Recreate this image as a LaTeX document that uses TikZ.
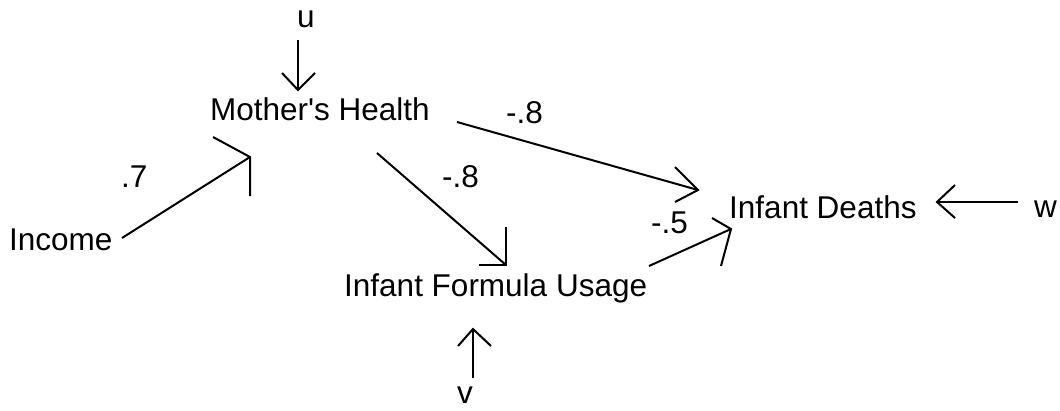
\documentclass[tikz,border=0pt]{standalone}
\usepackage{fontspec}
\setmainfont{Liberation Sans}
\begin{document}
\begin{tikzpicture}[x=1pt,y=-1pt,
  txt/.style={inner sep=0pt,anchor=base west,font=\fontsize{31.5}{37}\selectfont},
  conn/.style={line width=2pt,black},
  head/.style={line width=2pt,black,line join=miter}]
\useasboundingbox (0,0) rectangle (1060,410);
% nodes
\node[txt] (u) at (297,27) {u};
\node[txt] (mh) at (210,120) {Mother\textquotesingle s Health};
\node[txt] (inc) at (9,250) {Income};
\node[txt] (ifu) at (344,296) {Infant Formula Usage};
\node[txt] (id) at (729,218) {Infant Deaths};
\node[txt] (w) at (1034,217) {w};
\node[txt] (v) at (457,403) {v};
% labels
\node[txt] (l1) at (121,187) {.7};
\node[txt] (l2) at (442,187) {-.8};
\node[txt] (l3) at (506,123) {-.8};
\node[txt] (l4) at (651,233) {-.5};
% connector end points
\coordinate (uS) at (298,40);   \coordinate (uT) at (298,90);
\coordinate (incS) at (122,238); \coordinate (mhT1) at (250,157);
\coordinate (mhS1) at (377,153); \coordinate (ifuT) at (506,265);
\coordinate (mhS2) at (457,122); \coordinate (idT1) at (698,190);
\coordinate (ifuS) at (649,266); \coordinate (idT2) at (731,229);
\coordinate (wS) at (1018,202);  \coordinate (idT3) at (937,202);
\coordinate (vS) at (473,378);   \coordinate (ifuT2) at (473,329);
% connectors
\draw[conn] (uS) -- (uT);
\draw[head] (uT) ++(-16,-17) -- (uT) -- ++(17,-17);
\draw[conn] (incS) -- (mhT1);
\draw[head] (mhT1) ++(-37,-20) -- (mhT1) -- ++(0,39);
\draw[conn] (mhS1) -- (ifuT);
\draw[head] (ifuT) ++(0,-38) -- (ifuT) -- ++(-27,0);
\draw[conn] (mhS2) -- (idT1);
\draw[head] (idT1) ++(-23,-23) -- (idT1) -- ++(-23,12);
\draw[conn] (ifuS) -- (idT2);
\draw[head] (idT2) ++(-19,-11) -- (idT2) -- ++(-10,37);
\draw[conn] (wS) -- (idT3);
\draw[head] (idT3) ++(18,-17) -- (idT3) -- ++(18,16);
\draw[conn] (vS) -- (ifuT2);
\draw[head] (ifuT2) ++(-15,17) -- (ifuT2) -- ++(18,17);
\end{tikzpicture}
\end{document}
